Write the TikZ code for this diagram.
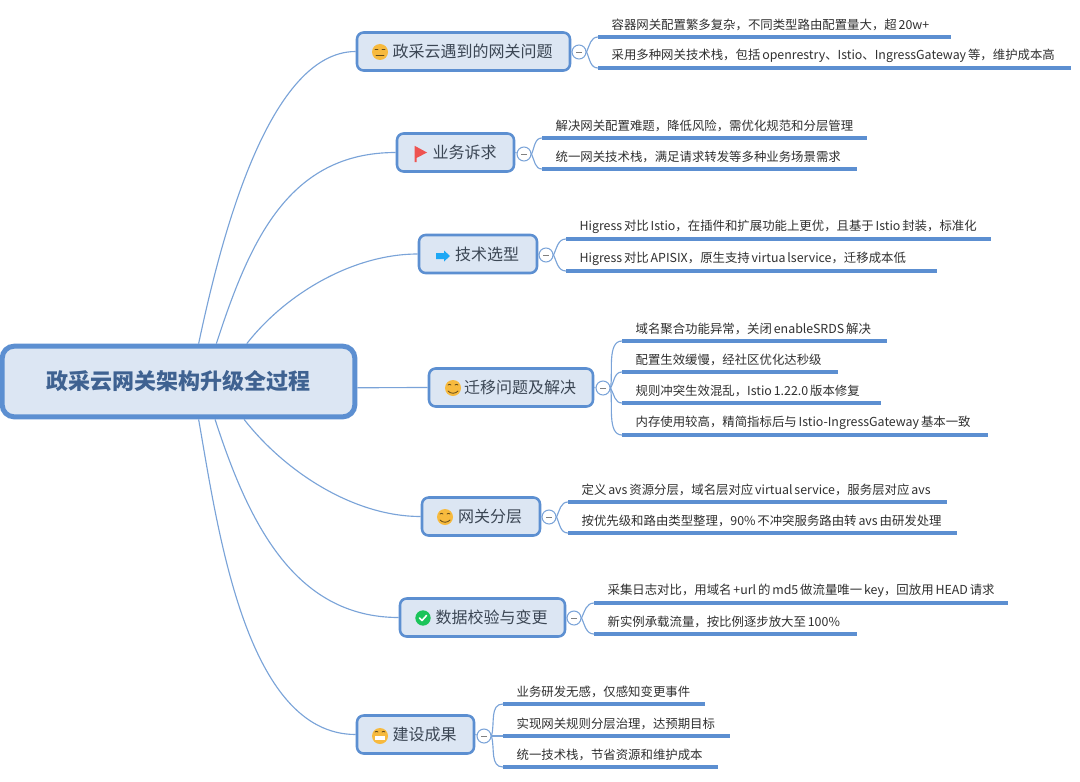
\documentclass[tikz,border=0pt]{standalone}
\usepackage{fontspec}
\setmainfont{Noto Sans CJK SC}
\definecolor{boxline}{HTML}{5C8FD1}
\definecolor{boxfill}{HTML}{DCE6F3}
\definecolor{branchline}{HTML}{7AA3D8}
\definecolor{roottext}{HTML}{3F6291}
\definecolor{topictext}{HTML}{3B4654}
\definecolor{subtext}{HTML}{2F2F2F}
\definecolor{facefill}{HTML}{F7BA3E}
\definecolor{flagred}{HTML}{EE5350}
\definecolor{arrowblue}{HTML}{1DA8F5}
\definecolor{checkgreen}{HTML}{1BC45A}
\tikzset{
	rootbox/.style={draw=boxline, fill=boxfill, line width=3.75pt, rounded corners=9pt, inner sep=0pt, minimum width=264.5pt, minimum height=53pt, font=\fontsize{16.5}{20}\selectfont\bfseries, text=roottext},
	topic/.style={draw=boxline, fill=boxfill, line width=1.9pt, rounded corners=5pt, inner sep=0pt, minimum width=#1*0.75pt, minimum height=28.5pt, font=\fontsize{12}{15}\selectfont, text=topictext, execute at begin node={\hspace*{13.5pt}}},
	collapse/.style={circle, draw=branchline, fill=white, line width=0.8pt, minimum size=10.5pt, inner sep=0pt, path picture={\draw[gray, line width=0.5pt] ([xshift=-2pt]path picture bounding box.center) -- ([xshift=2pt]path picture bounding box.center);}},
	subtopic/.style={anchor=south west, inner sep=0pt, text width=#1*0.75pt, minimum height=17.5pt, align=left, font=\fontsize{9.3}{12}\selectfont, text=subtext, execute at begin node={\hyphenpenalty=10000 \spaceskip=0.15em\relax\hspace*{10pt}}},
	branch/.style={draw=branchline, line width=0.85pt},
	subline/.style={draw=boxline, line width=2.4pt},
	face/.style={circle, fill=facefill, minimum size=12pt, inner sep=0pt},
	faceline/.style={draw=#1, line width=0.6pt, line cap=round},
	faceline/.default=black!60!facefill
}
\begin{document}
\begin{tikzpicture}[x=0.75pt, y=-0.75pt]
	\useasboundingbox (0,0) rectangle (1080,781);
	% main box
	\node (root)[rootbox] at (178.5,381.5) {政采云网关架构升级全过程};
	% topics
	\node (t1)[topic=213] at (463.5,51.5) {政采云遇到的网关问题};
	\node (t2)[topic=117] at (455.5,152.5) {业务诉求};
	\node (t3)[topic=118] at (478,254) {技术选型};
	\node (t4)[topic=164] at (511,387.5) {迁移问题及解决};
	\node (t5)[topic=118] at (481,516.5) {网关分层};
	\node (t6)[topic=165] at (482.5,617.5) {数据校验与变更};
	\node (t7)[topic=117] at (415.5,734.5) {建设成果};
	% root to topics
	\draw[branch] (root.62) to[out=78, in=180, looseness=0.7] (t1.west);
	\draw[branch] (root.45) to[out=72, in=180, looseness=1.05] (t2.west);
	\draw[branch] (root.29) to[out=52, in=180, looseness=0.85] (t3.west);
	\draw[branch] (root.-2) to[out=0, in=180, looseness=0.5] (t4.west);
	\draw[branch] (root.-30) to[out=-52, in=180, looseness=0.85] (t5.west);
	\draw[branch] (root.-46) to[out=-72, in=180, looseness=1] (t6.west);
	\draw[branch] (root.-62) to[out=-80, in=180, looseness=0.8] (t7.west);
	% collapse marks
	\node (c1)[collapse] at (579,52) {};
	\node (c2)[collapse] at (524,154) {};
	\node (c3)[collapse] at (546,255) {};
	\node (c4)[collapse] at (603,388) {};
	\node (c5)[collapse] at (549,517) {};
	\node (c6)[collapse] at (574,618) {};
	\node (c7)[collapse] at (484,736) {};
	\draw[branch] (t1.east)--(c1);
	\draw[branch] (t2.east)--(c2);
	\draw[branch] (t3.east)--(c3);
	\draw[branch] (t4.east)--(c4);
	\draw[branch] (t5.east)--(c5);
	\draw[branch] (t6.east)--(c6);
	\draw[branch] (t7.east)--(c7);
	% subtopics
	\node (s11)[subtopic=352] at (598,37) {容器网关配置繁多复杂，不同类型路由配置量大，超 20w+};
	\node (s12)[subtopic=472] at (598,68) {采用多种网关技术栈，包括 openrestry、Istio、IngressGateway 等，维护成本高};
	\node (s21)[subtopic=324] at (542,138) {解决网关配置难题，降低风险，需优化规范和分层管理};
	\node (s22)[subtopic=314] at (542,169) {统一网关技术栈，满足请求转发等多种业务场景需求};
	\node (s31)[subtopic=424] at (566,239) {Higress 对比 Istio，在插件和扩展功能上更优，且基于 Istio 封装，标准化};
	\node (s32)[subtopic=370] at (566,271) {Higress 对比 APISIX，原生支持 virtua lservice，迁移成本低};
	\node (s41)[subtopic=264] at (622,341) {域名聚合功能异常，关闭 enableSRDS 解决};
	\node (s42)[subtopic=215] at (622,372) {配置生效缓慢，经社区优化达秒级};
	\node (s43)[subtopic=258] at (622,403) {规则冲突生效混乱，Istio 1.22.0 版本修复};
	\node (s44)[subtopic=365] at (622,435) {内存使用较高，精简指标后与 Istio-IngressGateway 基本一致};
	\node (s51)[subtopic=378] at (568,502) {定义 avs 资源分层，域名层对应 virtual service，服务层对应 avs};
	\node (s52)[subtopic=388] at (568,533) {按优先级和路由类型整理，90\% 不冲突服务路由转 avs 由研发处理};
	\node (s61)[subtopic=413] at (594,603) {采集日志对比，用域名 +url 的 md5 做流量唯一 key，回放用 HEAD 请求};
	\node (s62)[subtopic=262] at (594,634) {新实例承载流量，按比例逐步放大至 100\%};
	\node (s71)[subtopic=201] at (503,704) {业务研发无感，仅感知变更事件};
	\node (s72)[subtopic=226] at (503,736) {实现网关规则分层治理，达预期目标};
	\node (s73)[subtopic=214] at (503,767) {统一技术栈，节省资源和维护成本};
	% underlines
	\draw[subline] (s11.south west)--(s11.south east);
	\draw[subline] (s12.south west)--(s12.south east);
	\draw[subline] (s21.south west)--(s21.south east);
	\draw[subline] (s22.south west)--(s22.south east);
	\draw[subline] (s31.south west)--(s31.south east);
	\draw[subline] (s32.south west)--(s32.south east);
	\draw[subline] (s41.south west)--(s41.south east);
	\draw[subline] (s42.south west)--(s42.south east);
	\draw[subline] (s43.south west)--(s43.south east);
	\draw[subline] (s44.south west)--(s44.south east);
	\draw[subline] (s51.south west)--(s51.south east);
	\draw[subline] (s52.south west)--(s52.south east);
	\draw[subline] (s61.south west)--(s61.south east);
	\draw[subline] (s62.south west)--(s62.south east);
	\draw[subline] (s71.south west)--(s71.south east);
	\draw[subline] (s72.south west)--(s72.south east);
	\draw[subline] (s73.south west)--(s73.south east);
	% collapse marks to subtopics
	\draw[branch] (c1.east) to[out=65, in=180] (s11.south west);
	\draw[branch] (c1.east) to[out=-65, in=180] (s12.south west);
	\draw[branch] (c2.east) to[out=65, in=180] (s21.south west);
	\draw[branch] (c2.east) to[out=-65, in=180] (s22.south west);
	\draw[branch] (c3.east) to[out=65, in=180] (s31.south west);
	\draw[branch] (c3.east) to[out=-65, in=180] (s32.south west);
	\draw[branch] (c4.east) to[out=80, in=180, looseness=0.8] (s41.south west);
	\draw[branch] (c4.east) to[out=60, in=180] (s42.south west);
	\draw[branch] (c4.east) to[out=-60, in=180] (s43.south west);
	\draw[branch] (c4.east) to[out=-80, in=180, looseness=0.8] (s44.south west);
	\draw[branch] (c5.east) to[out=65, in=180] (s51.south west);
	\draw[branch] (c5.east) to[out=-65, in=180] (s52.south west);
	\draw[branch] (c6.east) to[out=65, in=180] (s61.south west);
	\draw[branch] (c6.east) to[out=-65, in=180] (s62.south west);
	\draw[branch] (c7.east) to[out=75, in=180] (s71.south west);
	\draw[branch] (c7.east)--(s72.south west);
	\draw[branch] (c7.east) to[out=-75, in=180] (s73.south west);
	% icons
	\node (i1)[face] at (380,52) {};
	\draw[faceline] (375,49.5)--(378,49.5) (382,49.5)--(385,49.5) (376,55)--(384,55);
	\fill[flagred] (415,146) -- (427,152.5) -- (416.5,158) -- (416.5,162) -- (414.5,162) -- (414.5,146) -- cycle;
	\fill[arrowblue] (436,253) -- (444,253) -- (444,250.5) -- (450,256) -- (444,261.5) -- (444,259) -- (436,259) -- cycle;
	\node (i4)[face] at (453,388) {};
	\draw[faceline] (448,385) to[bend left=50] (451,385) (455,385) to[bend left=50] (458,385);
	\draw[faceline] (448,391) to[bend right=50] (458,391);
	\node (i5)[face] at (445,517) {};
	\draw[faceline] (440,514) to[bend left=50] (443,514) (447,514) to[bend left=50] (450,514);
	\draw[faceline] (440,520) to[bend right=50] (450,520);
	\node (i6)[circle, fill=checkgreen, minimum size=11.5pt, inner sep=0pt] at (423,618) {};
	\draw[white, line width=1.2pt, line cap=round, line join=round] (419.5,618) -- (422,620.5) -- (426.5,615.5);
	\node (i7)[face] at (380,736) {};
	\draw[faceline] (375,732) to[bend left=50] (378,732) (382,732) to[bend left=50] (385,732);
	\fill[white] (375,736) rectangle (385,740);
\end{tikzpicture}
\end{document}
